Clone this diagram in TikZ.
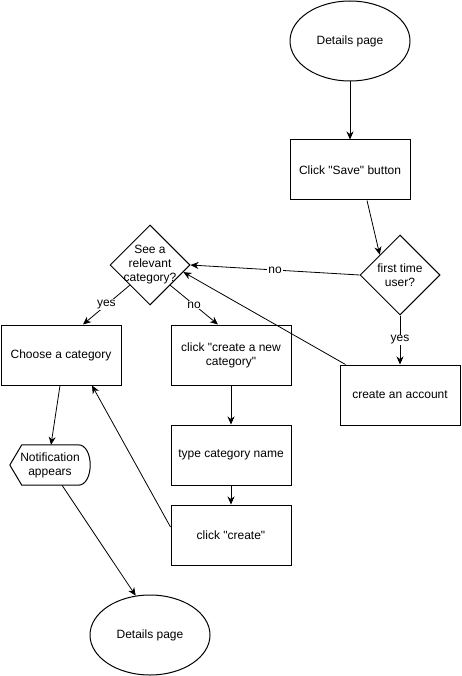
\documentclass[tikz,border=0pt]{standalone}
\usepackage{fontspec}
\setmainfont{Liberation Sans}[Ligatures=TeXOff]
\usetikzlibrary{shapes.geometric,arrows.meta,calc}
\begin{document}
\begin{tikzpicture}[x=1pt,y=-1pt,
  every node/.style={font=\fontsize{12}{14}\selectfont, inner sep=0pt, align=center},
  stepbox/.style={draw, line width=1pt, minimum width=120pt, minimum height=60pt},
  term/.style={draw, ellipse, line width=1pt, minimum width=120pt, minimum height=80pt},
  decide/.style={draw, diamond, line width=1pt, minimum width=80pt, minimum height=80pt},
  flow/.style={line width=0.8pt, -{Stealth[length=8pt,width=7pt,inset=2.5pt]}},
  tag/.style={fill=white, inner sep=1pt}
]
\useasboundingbox (0,0) rectangle (461,676);

% terminals
\node[term] (top) at (350,41) {Details page};
\node[term] (bot) at (150,635) {Details page};

% process steps
\node[stepbox] (save)   at (350,170) {Click "Save" button};
\node[stepbox] (acct)   at (400,395) {create an account};
\node[stepbox] (choose) at (61,355)  {Choose a category};
\node[stepbox] (newcat) at (231,355) {click "create a new\\category"};
\node[stepbox] (type)   at (231,455) {type category name};
\node[stepbox] (create) at (231,535) {click "create"};

% decisions
\node[decide, label={[align=center]center:first time\\user?}] (ftu) at (400,275) {};
\node[decide, label={[align=center]center:See a\\relevant\\category?}] (rel) at (150,265) {};

% notification (display shape)
\node[minimum width=80pt, minimum height=40pt] (notif) at (50,465) {Notification\\appears};
\draw[line width=1pt, line join=round]
  (notif.west) -- ($(notif.north west)+(12,0)$) -- ($(notif.north east)+(-12,0)$)
  .. controls ($(notif.north east)+(4,0)$) and ($(notif.south east)+(4,0)$) .. ($(notif.south east)+(-12,0)$)
  -- ($(notif.south west)+(12,0)$) -- cycle;

% connectors
\draw[flow] (top.south) -- (save.north);
\draw[flow] ($(save.south)+(17,0)$) -- (ftu.135);
\draw[flow] (ftu.west) -- node[tag] (lno) {no} (rel.east);
\draw[flow] (ftu.south) -- node[tag] (lyes) {yes} (acct.north);
\draw[flow] ($(acct.north west)+(6,0)$) -- (rel.-12);
\draw[flow] (rel.-135) -- node[tag] (ryes) {yes} ($(choose.north)+(22,0)$);
\draw[flow] (rel.-45) -- node[tag] (rno) {no} ($(newcat.north)+(-13,0)$);
\draw[flow] (newcat.south) -- (type.north);
\draw[flow] (type.south) -- (create.north);
\draw[flow] ($(create.west)+(0,-8)$) -- ($(choose.south)+(31,0)$);
\draw[flow] ($(choose.south)+(-1,0)$) -- ($(notif.north)+(1,0)$);
\draw[flow] ($(notif.south)+(12,0)$) -- (bot.110);

\end{tikzpicture}
\end{document}
